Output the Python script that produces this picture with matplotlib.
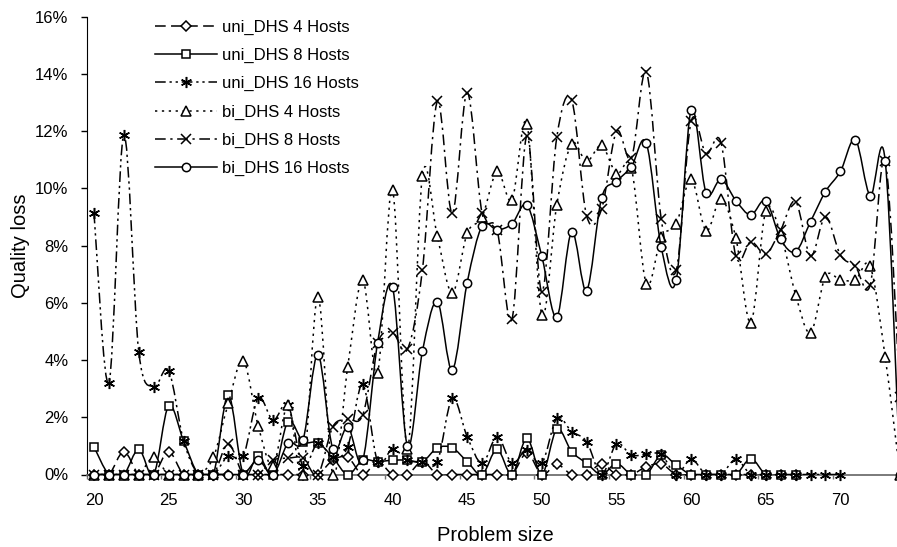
import numpy as np
import matplotlib
matplotlib.use("Agg")
import matplotlib.pyplot as plt
from matplotlib.path import Path
from matplotlib.patches import PathPatch
from matplotlib.lines import Line2D

plt.rcParams['font.family'] = ['Liberation Sans', 'DejaVu Sans']

# problem sizes (x) for each series
size_uni_short = list(range(20, 68))   # uni_DHS 4 / 8 hosts
size_uni_16 = list(range(20, 71))      # uni_DHS 16 hosts
size_bi = list(range(20, 75))          # bi_DHS series

# quality loss in %
uni_4 = [0, 0, 0.8, 0, 0, 0.8, 0, 0, 0, 0,
         0, 0, 0, 0, 0, 0, 0.5, 0.6, 0, 0.45,
         0, 0, 0.45, 0, 0, 0, 0, 0, 0, 0.75,
         0, 0.35, 0, 0, 0.37, 0, 0, 0.27, 0.37, 0,
         0, 0, 0, 0, 0, 0, 0, 0]
uni_8 = [0.97, 0, 0, 0.88, 0, 2.4, 1.18, 0, 0, 2.78,
         0, 0.65, 0, 1.85, 1.15, 1.11, 0.6, 0, 0.5, 0.45,
         0.5, 0.5, 0.45, 0.93, 0.93, 0.45, 0, 0.88, 0, 1.27,
         0, 1.58, 0.8, 0.39, 0, 0.38, 0, 0, 0.68, 0.33,
         0, 0, 0, 0, 0.55, 0, 0, 0]
uni_16 = [9.15, 3.2, 11.87, 4.29, 3.07, 3.63, 1.18, 0, 0, 0.65,
          0.65, 2.66, 1.9, 2.43, 0.3, 1.11, 0.6, 0.97, 3.15, 0.45,
          0.9, 0.5, 0.45, 0.45, 2.66, 1.32, 0.39, 1.32, 0.4, 0.86,
          0.39, 1.96, 1.5, 1.15, 0, 1.07, 0.68, 0.7, 0.7, 0,
          0.53, 0, 0, 0.53, 0, 0, 0, 0, 0, 0, 0]
bi_4 = [0, 0, 0, 0, 0.6, 0, 0, 0, 0.6, 2.49,
        3.98, 1.7, 0.3, 2.43, 0, 6.22, 0, 3.77, 6.8, 3.55,
        9.95, 0.9, 10.44, 8.32, 6.34, 8.43, 9.0, 10.59, 9.6, 12.26,
        5.58, 9.42, 11.56, 10.94, 11.5, 10.51, 10.7, 6.66, 8.29, 8.76,
        10.32, 8.52, 9.62, 8.26, 5.31, 9.22, 8.4, 6.28, 4.95, 6.92,
        6.8, 6.8, 7.27, 4.1, 0]
bi_8 = [0, 0, 0, 0, 0, 0, 0, 0, 0, 1.07,
        0, 0, 0.5, 0.57, 0.57, 0, 1.67, 1.93, 2.08, 4.6,
        4.96, 4.38, 7.15, 13.04, 9.13, 13.35, 9.13, 8.55, 5.43, 11.84,
        6.39, 11.78, 13.09, 9.04, 9.27, 11.99, 11.06, 14.08, 8.92, 7.13,
        12.34, 11.21, 11.6, 7.62, 8.14, 7.71, 8.55, 9.54, 7.64, 9.01,
        7.67, 7.27, 6.63, 10.96, 2.7]
bi_16 = [0, 0, 0, 0, 0, 0, 0, 0, 0, 0,
         0, 0.5, 0, 1.1, 1.2, 4.19, 0.9, 1.67, 0.5, 4.61,
         6.54, 1.0, 4.3, 6.04, 3.65, 6.71, 8.69, 8.55, 8.76, 9.42,
         7.62, 5.5, 8.49, 6.43, 9.66, 10.24, 10.76, 11.58, 7.94, 6.8,
         12.74, 9.85, 10.32, 9.57, 9.07, 9.57, 8.22, 7.79, 8.84, 9.89,
         10.59, 11.7, 9.74, 10.96, 0]

labels = ['uni_DHS 4 Hosts', 'uni_DHS 8 Hosts', 'uni_DHS 16 Hosts',
          'bi_DHS 4 Hosts', 'bi_DHS 8 Hosts', 'bi_DHS 16 Hosts']
y_ticks = [0, 2, 4, 6, 8, 10, 12, 14, 16]
x_labels = [20, 25, 30, 35, 40, 45, 50, 55, 60, 65, 70]


def smooth_path(xs, ys):
    # Excel-like smoothed line: cubic Bezier through every data point
    p = np.column_stack([xs, ys]).astype(float)
    ext = np.vstack([p[0], p, p[-1]])
    verts = [p[0]]
    codes = [Path.MOVETO]
    for i in range(len(p) - 1):
        a, b, c, d = ext[i], ext[i + 1], ext[i + 2], ext[i + 3]
        verts += [b + (c - a) / 6, c - (d - b) / 6, c]
        codes += [Path.CURVE4] * 3
    return Path(verts, codes)


series = [
    (size_uni_short, uni_4, (0, (7, 3.5)), 'D', 5.5),
    (size_uni_short, uni_8, '-', 's', 6),
    (size_uni_16, uni_16, (0, (7, 2.5, 1.5, 2.5, 1.5, 2.5)), (6, 2, 0), 8),
    (size_bi, bi_4, (0, (1.5, 3)), '^', 6.5),
    (size_bi, bi_8, (0, (7, 3, 1.5, 3)), 'x', 7),
    (size_bi, bi_16, '-', 'o', 6),
]

fig = plt.figure(figsize=(8.97, 5.47), dpi=100)
ax = fig.add_axes([86.5 / 897, (547 - 474.5) / 547, (907.6 - 86.5) / 897, 457.8 / 547])

handles = []
for k, (xs, ys, ls, mk, ms) in enumerate(series):
    patch = PathPatch(smooth_path(xs, ys), facecolor='none', edgecolor='black',
                      lw=1.1, linestyle=ls, capstyle='butt', zorder=3 + k)
    ax.add_patch(patch)
    ax.plot(xs, ys, linestyle='none', marker=mk, ms=ms, mfc='white', mec='black',
            mew=1.1, zorder=3.5 + k, clip_on=False)
    handles.append(Line2D([], [], color='black', lw=1.1, linestyle=ls, marker=mk,
                          ms=ms, mfc='white', mec='black', mew=1.1))

ax.set_xlim(19.5, 74.5)
ax.set_ylim(0, 16)

for s in ['top', 'right']:
    ax.spines[s].set_visible(False)
ax.spines['left'].set_color('black')
ax.spines['bottom'].set_color('#707070')
ax.spines['bottom'].set_linewidth(1.3)

ax.set_yticks(y_ticks)
ax.set_yticklabels([f'{v}%' for v in y_ticks])
ax.tick_params(axis='y', direction='out', length=4, width=1, labelsize=12, pad=9)

ax.set_xticks(np.arange(19.5, 75, 5))
ax.set_xticklabels([])
ax.set_xticks(x_labels, minor=True)
ax.set_xticklabels([str(v) for v in x_labels], minor=True)
ax.tick_params(axis='x', which='major', direction='out', length=3, width=1, color='#707070')
ax.tick_params(axis='x', which='minor', length=0, labelsize=12, pad=13)

ax.set_xlabel('Problem size', fontsize=14.5)
ax.xaxis.set_label_coords((495 - 86.5) / 821.1, -0.112)
ax.set_ylabel('Quality loss', fontsize=14.5)
ax.yaxis.set_label_coords(-0.069, 0.5)

ax.legend(handles, labels, loc='upper left', bbox_to_anchor=(155 / 897, 1 - 20 / 547),
          bbox_transform=fig.transFigure, frameon=False, fontsize=12,
          handlelength=3.7, handletextpad=0.3, labelspacing=0.78,
          borderpad=0, borderaxespad=0, numpoints=1)

fig.savefig('out.png', dpi=100)
